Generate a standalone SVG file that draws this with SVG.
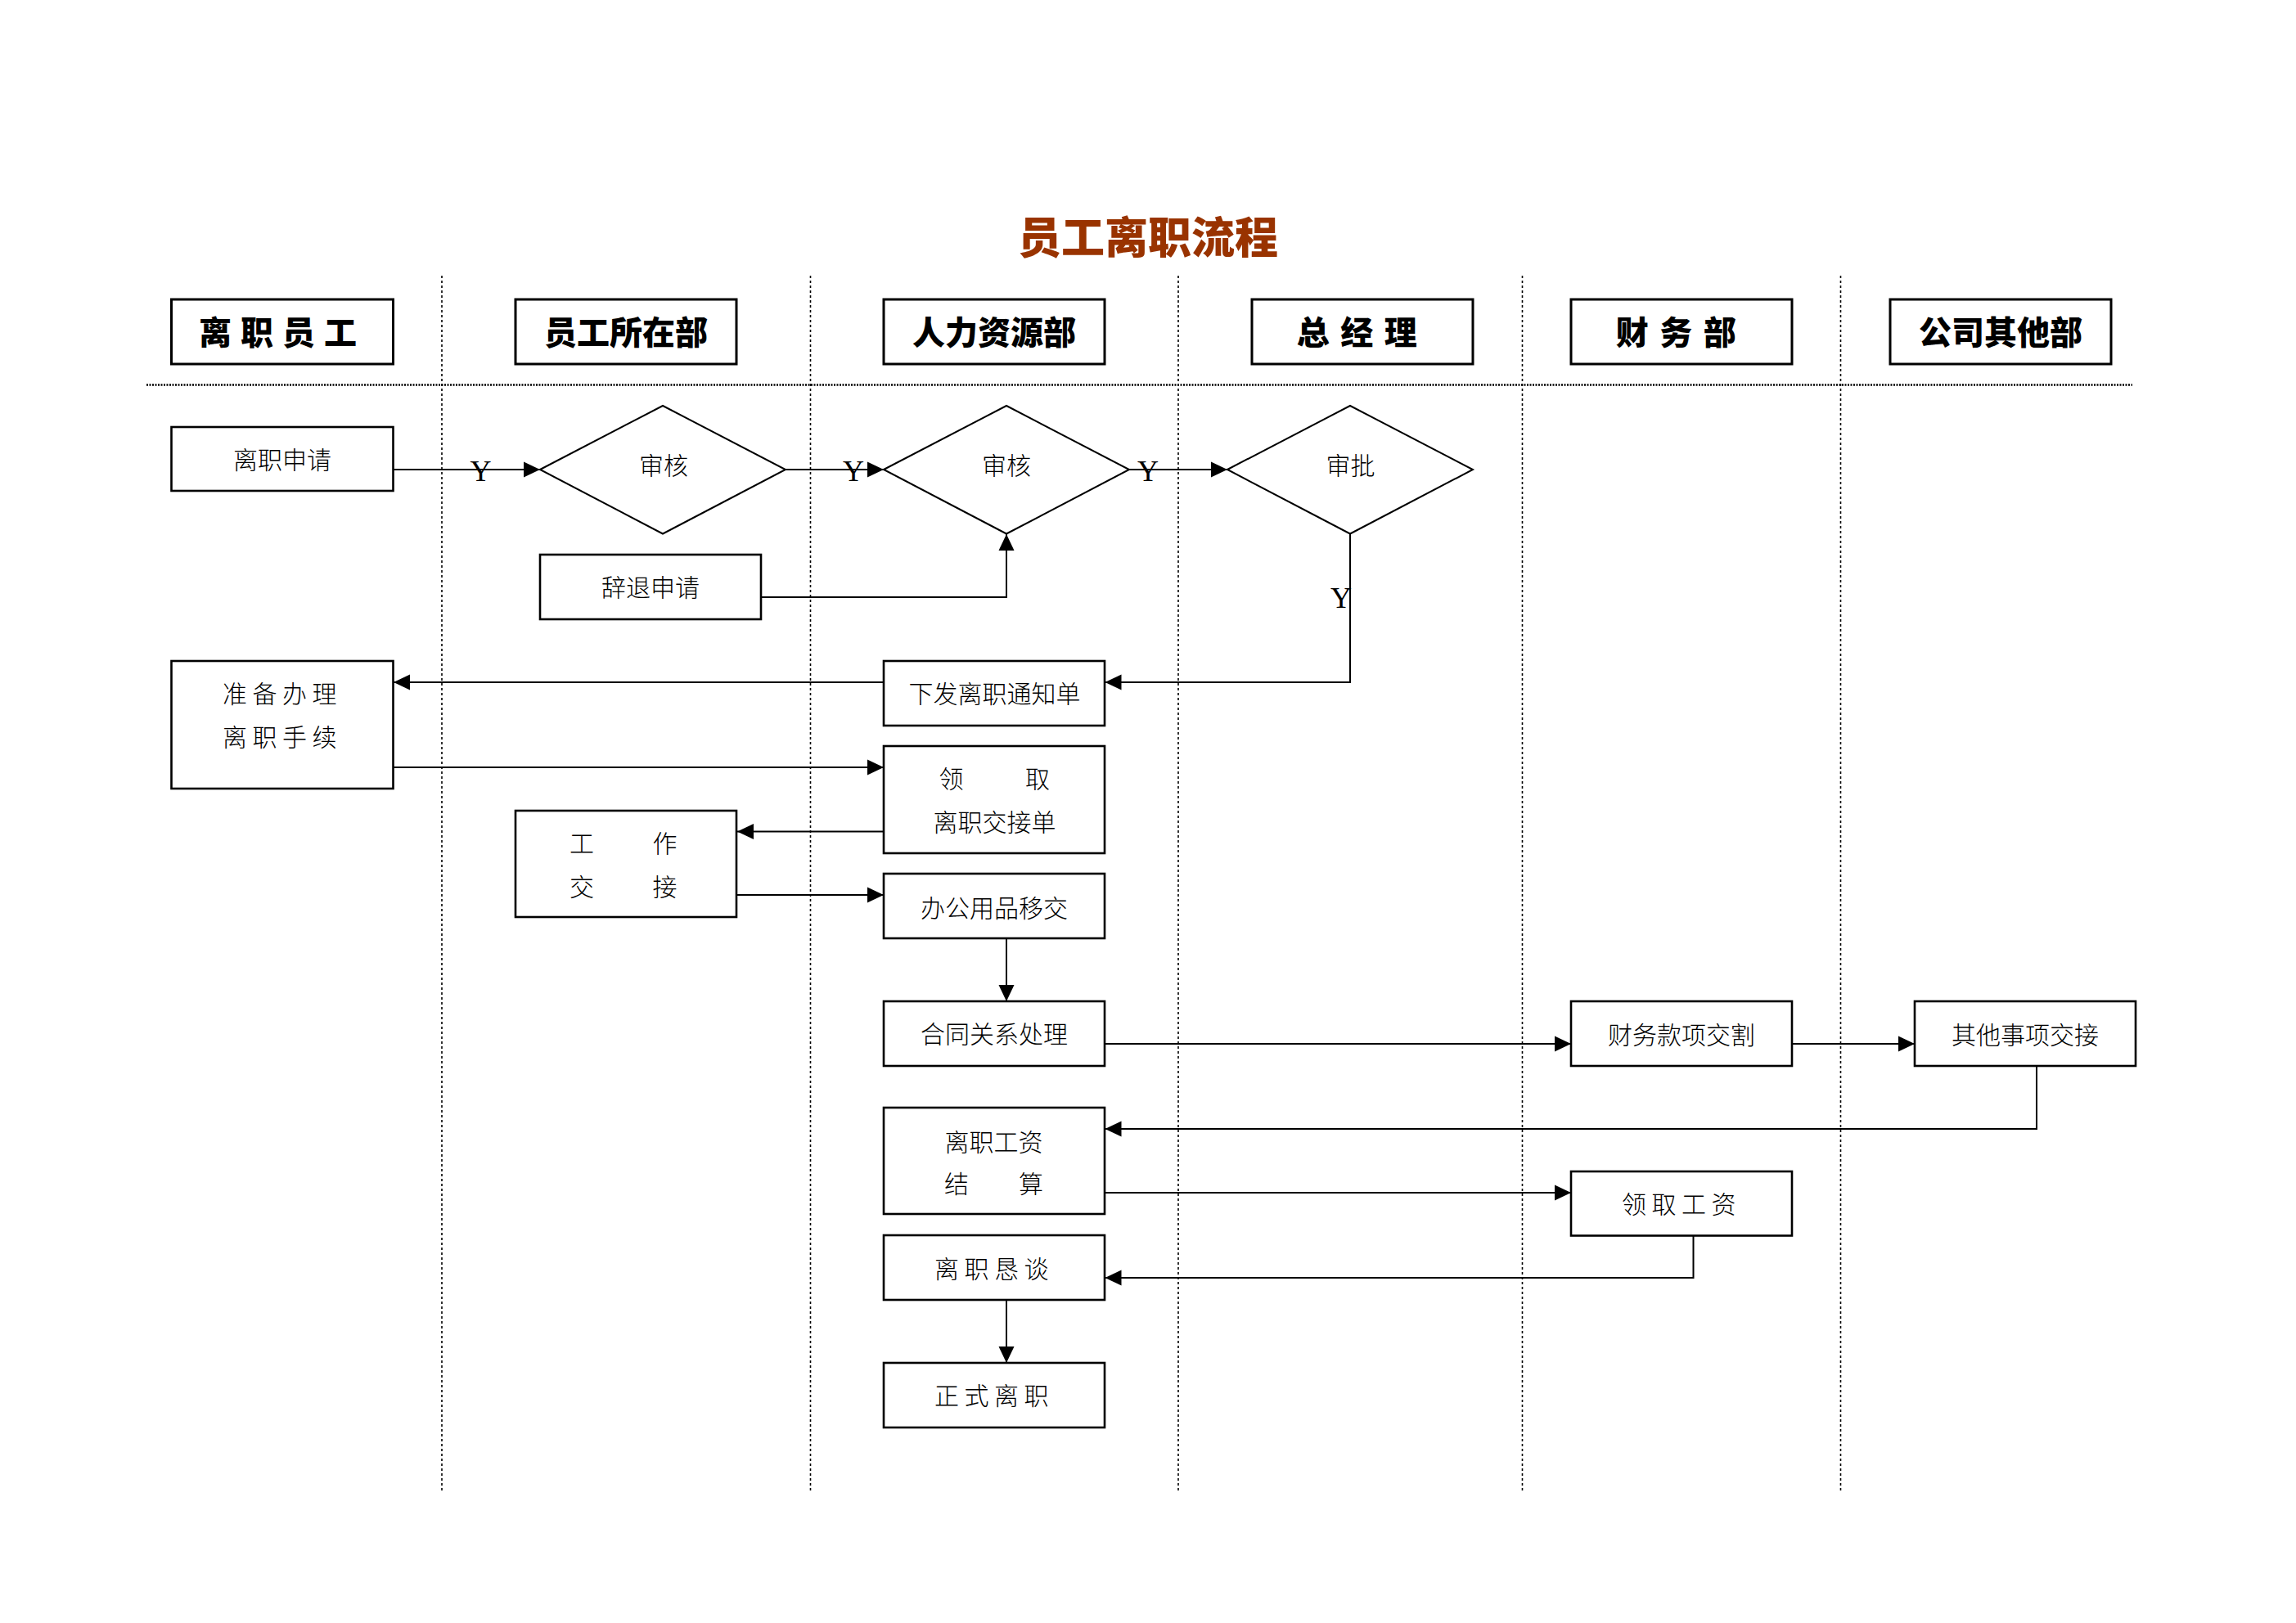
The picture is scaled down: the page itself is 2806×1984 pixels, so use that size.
<svg xmlns="http://www.w3.org/2000/svg" width="2806" height="1984" viewBox="0 0 2806 1984">
<defs>
<style>
.bg{fill:#ffffff}
.box{fill:#ffffff;stroke:#000;stroke-width:2.6}
.hbox{fill:#ffffff;stroke:#000;stroke-width:3}
.dia{fill:#ffffff;stroke:#000;stroke-width:2}
.con{fill:none;stroke:#000;stroke-width:2}
.vdash{stroke:#000;stroke-width:1.6;stroke-dasharray:3 3;fill:none}
.hdash{stroke:#000;stroke-width:2.4;stroke-dasharray:2 1.5;fill:none}
.t{font-family:"Noto Sans CJK SC","Noto Sans CJK TC",sans-serif;font-size:30px;font-weight:300;fill:#000;text-anchor:middle}
.sp{letter-spacing:6.5px}
.h{font-family:"Noto Sans CJK SC","Noto Sans CJK TC",sans-serif;font-size:40px;font-weight:900;fill:#000;text-anchor:middle}
.title{font-family:"Noto Sans CJK SC","Noto Sans CJK TC",sans-serif;font-size:53px;font-weight:900;fill:#993300;text-anchor:middle}
.y{font-family:"Liberation Serif","Times New Roman",serif;font-size:36px;fill:#000;text-anchor:middle}
</style>
<marker id="arr" markerUnits="userSpaceOnUse" markerWidth="20" markerHeight="20" refX="20" refY="9.5" orient="auto" viewBox="0 0 20 19">
<path d="M0,0 L20,9.5 L0,19 Z" fill="#000"/>
</marker>
</defs>
<rect class="bg" x="0" y="0" width="2806" height="1984"/>

<text class="title" x="1403" y="310">员工离职流程</text>

<g id="lanes">
<line class="vdash" x1="540" y1="337" x2="540" y2="1822"/>
<line class="vdash" x1="990.5" y1="337" x2="990.5" y2="1822"/>
<line class="vdash" x1="1440" y1="337" x2="1440" y2="1822"/>
<line class="vdash" x1="1860.5" y1="337" x2="1860.5" y2="1822"/>
<line class="vdash" x1="2249.5" y1="337" x2="2249.5" y2="1822"/>
<line class="hdash" x1="179" y1="470.5" x2="2606" y2="470.5"/>
</g>

<g id="header-lizhiyuangong"><rect class="hbox" x="209.5" y="366" width="271" height="79"/><text class="h" x="345" y="421" style="letter-spacing:11px">离职员工</text></g>
<g id="header-yuangongsuozaibu"><rect class="hbox" x="630" y="366" width="270" height="79"/><text class="h" x="765" y="421">员工所在部</text></g>
<g id="header-renliziyuanbu"><rect class="hbox" x="1080" y="366" width="270" height="79"/><text class="h" x="1215" y="421">人力资源部</text></g>
<g id="header-zongjingli"><rect class="hbox" x="1530" y="366" width="270" height="79"/><text class="h" x="1665" y="421" style="letter-spacing:13.5px">总经理</text></g>
<g id="header-caiwubu"><rect class="hbox" x="1920" y="366" width="270" height="79"/><text class="h" x="2055" y="421" style="letter-spacing:13.5px">财务部</text></g>
<g id="header-gongsiqitabu"><rect class="hbox" x="2310" y="366" width="270" height="79"/><text class="h" x="2445" y="421">公司其他部</text></g>

<g id="connectors">
<path class="con" d="M480,574 H660" marker-end="url(#arr)"/>
<path class="con" d="M960,574 H1080" marker-end="url(#arr)"/>
<path class="con" d="M1380,574 H1500" marker-end="url(#arr)"/>
<path class="con" d="M930,730 H1230 V653" marker-end="url(#arr)"/>
<path class="con" d="M1650,653 V834 H1350.5" marker-end="url(#arr)"/>
<path class="con" d="M1080,834 H481" marker-end="url(#arr)"/>
<path class="con" d="M480,938 H1080" marker-end="url(#arr)"/>
<path class="con" d="M1080,1016.5 H901" marker-end="url(#arr)"/>
<path class="con" d="M900,1094 H1080" marker-end="url(#arr)"/>
<path class="con" d="M1230,1147 V1224" marker-end="url(#arr)"/>
<path class="con" d="M1350,1276 H1920" marker-end="url(#arr)"/>
<path class="con" d="M2190,1276 H2340" marker-end="url(#arr)"/>
<path class="con" d="M2489,1303 V1380 H1350.5" marker-end="url(#arr)"/>
<path class="con" d="M1350,1458 H1920" marker-end="url(#arr)"/>
<path class="con" d="M2069.5,1511 V1562 H1350.5" marker-end="url(#arr)"/>
<path class="con" d="M1230,1589 V1666" marker-end="url(#arr)"/>
<text class="y" x="587.5" y="588">Y</text>
<text class="y" x="1043" y="588">Y</text>
<text class="y" x="1403" y="588">Y</text>
<text class="y" x="1639" y="743">Y</text>
</g>

<g id="lizhishenqing"><rect class="box" x="209.5" y="522" width="271" height="78"/><text class="t" x="345" y="573">离职申请</text></g>
<g id="shenhe1"><polygon class="dia" points="660,574 810,496 960,574 810,652.5"/><text class="t" x="811" y="580">审核</text></g>
<g id="shenhe2"><polygon class="dia" points="1080,574 1230,496 1380,574 1230,652.5"/><text class="t" x="1230" y="580">审核</text></g>
<g id="shenpi"><polygon class="dia" points="1500,574 1650,496 1800,574 1650,652.5"/><text class="t" x="1650.5" y="580">审批</text></g>
<g id="citui"><rect class="box" x="660" y="678" width="270" height="79"/><text class="t" x="795" y="729">辞退申请</text></g>
<g id="xiafa"><rect class="box" x="1080" y="808" width="270" height="79"/><text class="t" x="1215.5" y="859">下发离职通知单</text></g>
<g id="zhunbei"><rect class="box" x="209.5" y="808" width="271" height="156"/><text class="t sp" x="345" y="858.5">准备办理</text><text class="t sp" x="345" y="911.5">离职手续</text></g>
<g id="lingqu-jiaojiedan"><rect class="box" x="1080" y="912" width="270" height="131"/><text class="t" y="962.5"><tspan x="1162.5">领</tspan><tspan x="1268">取</tspan></text><text class="t" x="1215.5" y="1016">离职交接单</text></g>
<g id="gongzuojiaojie"><rect class="box" x="630" y="991" width="270" height="130"/><text class="t" y="1041.5"><tspan x="711">工</tspan><tspan x="812.5">作</tspan></text><text class="t" y="1094.5"><tspan x="711">交</tspan><tspan x="812.5">接</tspan></text></g>
<g id="bangongyongpin"><rect class="box" x="1080" y="1068" width="270" height="79"/><text class="t" x="1215" y="1120.5">办公用品移交</text></g>
<g id="hetong"><rect class="box" x="1080" y="1224" width="270" height="79"/><text class="t" x="1215" y="1274.5">合同关系处理</text></g>
<g id="caiwukuanxiang"><rect class="box" x="1920" y="1224" width="270" height="79"/><text class="t" x="2055" y="1275.5">财务款项交割</text></g>
<g id="qitashixiang"><rect class="box" x="2340" y="1224" width="270" height="79"/><text class="t" x="2475" y="1275.5">其他事项交接</text></g>
<g id="gongzijiesuan"><rect class="box" x="1080" y="1354" width="270" height="130"/><text class="t" x="1214.5" y="1406.5">离职工资</text><text class="t" y="1458"><tspan x="1169">结</tspan><tspan x="1260">算</tspan></text></g>
<g id="lingqugongzi"><rect class="box" x="1920" y="1432" width="270" height="78.5"/><text class="t sp" x="2055" y="1482.5">领取工资</text></g>
<g id="kentan"><rect class="box" x="1080" y="1510" width="270" height="79"/><text class="t sp" x="1215" y="1561.5">离职恳谈</text></g>
<g id="zhengshi"><rect class="box" x="1080" y="1666" width="270" height="79"/><text class="t sp" x="1215" y="1717">正式离职</text></g>
</svg>
